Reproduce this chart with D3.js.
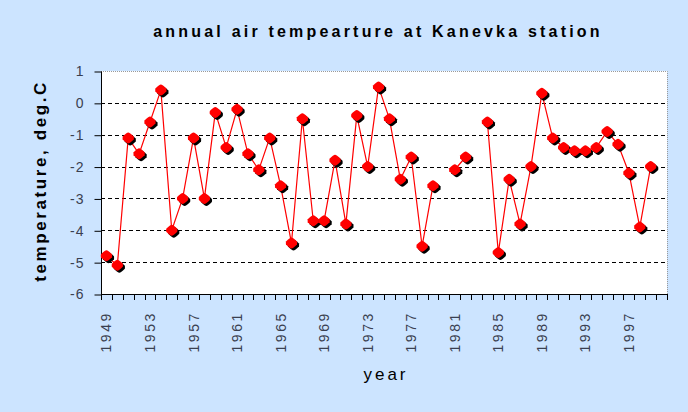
<!DOCTYPE html>
<html><head><meta charset="utf-8">
<script src="https://cdn.jsdelivr.net/npm/d3@7"></script>
<style>
html,body{margin:0;padding:0;background:#cce4ff;}
svg{display:block;}
</style></head>
<body>
<svg id="c" width="688" height="412"></svg>
<script>
const years = d3.range(1949, 2001);
const temps = [-4.8,-5.1,-1.1,-1.6,-0.6,0.4,-4.0,-3.0,-1.1,-3.0,
  -0.3,-1.4,-0.2,-1.6,-2.1,-1.1,-2.6,-4.4,-0.5,-3.7,
  -3.7,-1.8,-3.8,-0.4,-2.0,0.5,-0.5,-2.4,-1.7,-4.5,
  -2.6,null,-2.1,-1.7,null,-0.6,-4.7,-2.4,-3.8,-2.0,
  0.3,-1.1,-1.4,-1.5,-1.5,-1.4,-0.9,-1.3,-2.2,-3.9,
  -2.0,null];
const yTicks = [1,0,-1,-2,-3,-4,-5,-6];
const gridVals = [0,-1,-2,-3,-4,-5];
const labelYears = years.filter((y,i)=>i%4===0);

const svg = d3.select("#c");
const L=101, R=667, T=71, B=294;
const x = d3.scaleBand().domain(years).range([L,R]).padding(0);
const y = d3.scaleLinear().domain([-6,1]).range([B,T]);
const font = "'Liberation Sans', Arial, sans-serif";

svg.append("rect").attr("width",688).attr("height",412).attr("fill","#cce4ff");
svg.append("rect").attr("x",L).attr("y",T).attr("width",R-L).attr("height",B-T).attr("fill","#ffffff");
svg.append("path").attr("d",`M${L},${T+0.5}H${R+0.5}V${B}`).attr("fill","none")
  .attr("stroke","#9a9a9a").attr("stroke-width",1).attr("stroke-dasharray","1,1");

svg.append("g").selectAll("line").data(gridVals).join("line")
  .attr("x1",L).attr("x2",R).attr("y1",d=>Math.round(y(d))+0.5).attr("y2",d=>Math.round(y(d))+0.5)
  .attr("stroke","#000").attr("stroke-width",1).attr("stroke-dasharray","4,3");

const yAxis = d3.axisLeft(y).tickValues(yTicks).tickSize(7).tickPadding(10).tickFormat(d3.format("d"));
const gy = svg.append("g").attr("transform",`translate(${L+0.5},0.5)`).call(yAxis);
gy.select(".domain").attr("stroke","#000").attr("d",`M0,${T}V${B}`);
gy.selectAll(".tick line").attr("stroke","#000");
gy.selectAll(".tick text").attr("font-family",font).attr("font-size",14).attr("fill","#3a4050")
  .text(d=>d<0?"-"+Math.abs(d):d).attr("letter-spacing","1px");

const bounds = years.map(yv=>x(yv)).concat([R]);
svg.append("g").selectAll("line").data(bounds).join("line")
  .attr("x1",d=>Math.round(d)+0.5).attr("x2",d=>Math.round(d)+0.5).attr("y1",B).attr("y2",B+6)
  .attr("stroke","#000");
svg.append("line").attr("x1",L).attr("x2",R+1).attr("y1",B+0.5).attr("y2",B+0.5).attr("stroke","#000");

svg.append("g").selectAll("text").data(labelYears).join("text")
  .attr("transform",d=>`translate(${x(d)+x.bandwidth()/2+5},${B+17}) rotate(-90)`)
  .attr("text-anchor","end").attr("font-family",font).attr("font-size",14).attr("fill","#3a4050")
  .attr("letter-spacing","2.6px").text(d=>d);

const line = d3.line().defined(d=>d.v!==null).x(d=>x(d.yr)+x.bandwidth()/2).y(d=>y(d.v));
const pts = years.map((yr,i)=>({yr, v:temps[i]}));
svg.append("path").datum(pts).attr("d",line).attr("fill","none").attr("stroke","#ff0000").attr("stroke-width",1.2);

const valid = pts.filter(d=>d.v!==null);
const diamond = "M0,-5.5 Q1.5,-5.5 5.5,-1.5 Q5.8,0 5.5,1.5 Q1.5,5.5 0,5.5 Q-1.5,5.5 -5.5,1.5 Q-5.8,0 -5.5,-1.5 Q-1.5,-5.5 0,-5.5Z";
svg.append("g").selectAll("path").data(valid).join("path")
  .attr("transform",d=>`translate(${x(d.yr)+x.bandwidth()/2+2},${y(d.v)+2})`)
  .attr("d",diamond).attr("fill","#000");
svg.append("g").selectAll("path").data(valid).join("path")
  .attr("transform",d=>`translate(${x(d.yr)+x.bandwidth()/2},${y(d.v)})`)
  .attr("d",diamond).attr("fill","#ff0000");

svg.append("text").attr("x",378).attr("y",37).attr("text-anchor","middle").attr("font-family",font)
  .attr("font-weight","bold").attr("font-size",16).attr("letter-spacing","3.2px").attr("fill","#000")
  .text("annual air tempearture at Kanevka station");
svg.append("text").attr("transform","translate(46,181) rotate(-90)").attr("text-anchor","middle")
  .attr("font-family",font).attr("font-weight","bold").attr("font-size",17).attr("letter-spacing","2.6px")
  .attr("fill","#000").text("temperature, deg.C");
svg.append("text").attr("x",386).attr("y",380).attr("text-anchor","middle").attr("font-family",font)
  .attr("font-size",17).attr("letter-spacing","3px").attr("fill","#000").text("year");
</script>
</body></html>
